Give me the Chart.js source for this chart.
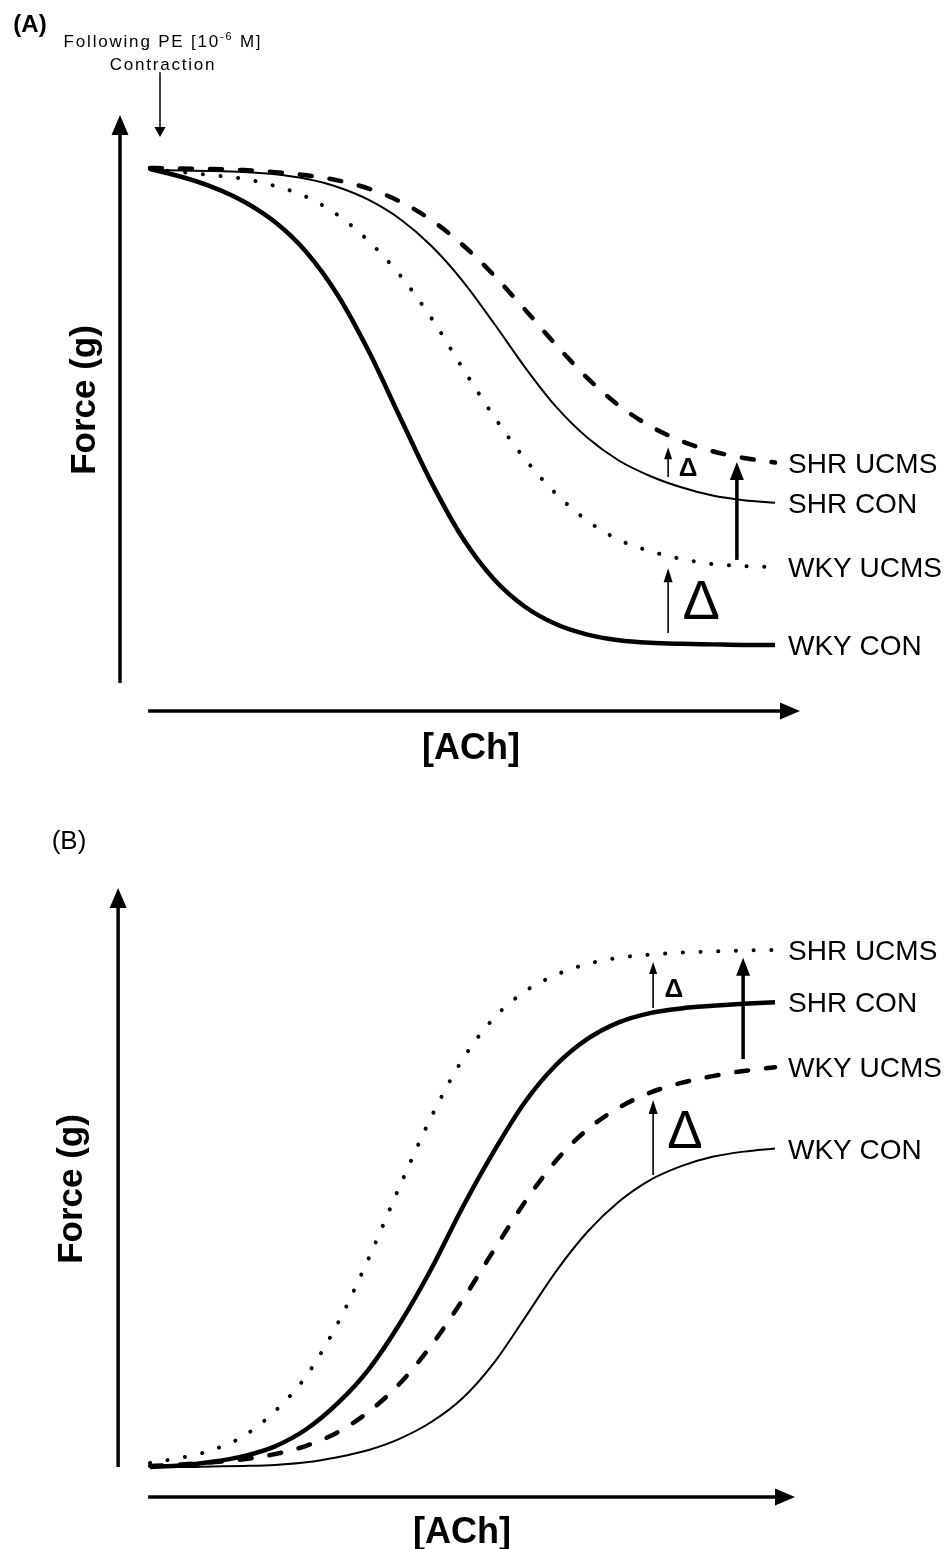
<!DOCTYPE html>
<html><head><meta charset="utf-8">
<script src="https://cdn.jsdelivr.net/npm/chart.js@4.4.1/dist/chart.umd.min.js"></script>
<style>
html,body{margin:0;padding:0;background:#fff;}
#wrap{position:relative;width:951px;height:1549px;overflow:hidden;}
canvas{position:absolute;left:0;}
#cA{top:0}
#cB{top:775px}
</style></head><body>
<div id="wrap"><canvas id="cA" width="951" height="775"></canvas><canvas id="cB" width="951" height="774"></canvas></div>
<script>
// ---------- DATA ----------
const achLevels = [0,5,10,15,20,25,30,35,40,45,50,55,60,65,70,75,80,85,90,95,100];
const seriesNames = ['SHR UCMS','SHR CON','WKY UCMS','WKY CON'];

// Panel A (relaxation following PE contraction)
const A_shrUcms = [100,99.9,99.8,99.6,99.2,98.6,97.6,96.0,93.5,89.9,85.1,79.2,72.5,65.6,59.2,53.9,49.9,47.0,45.0,43.7,42.8];
const A_shrCon  = [99.6,99.5,99.4,99.2,98.8,97.9,96.3,93.8,90.1,84.9,78.1,69.9,61.3,53.6,47.6,43.2,40.2,38.0,36.4,35.5,35.0];
const A_wkyUcms = [99.8,99.2,98.6,97.9,96.5,94.4,90.9,85.8,79.2,70.9,61.2,51.8,43.5,36.7,31.5,27.8,25.6,24.1,23.1,22.7,22.5];
const A_wkyCon  = [99.8,98.3,96.3,93.5,89.5,83.7,75.4,64.4,51.6,39.0,28.2,20.2,14.8,11.4,9.4,8.3,7.8,7.6,7.5,7.4,7.4];

// Panel B
const B_shrUcms = [0.8,1.8,3.3,6.0,10.8,17.6,27.7,40.4,54.4,67.7,78.8,86.8,92.0,95.2,97.3,98.5,99.1,99.5,99.7,99.9,100];
const B_shrCon  = [0,0.3,1.0,2.1,4.0,7.3,12.3,18.9,27.8,38.3,50.2,61.0,70.6,77.8,82.8,86.0,87.8,88.7,89.2,89.6,89.9];
const B_wkyUcms = [0.2,0.5,0.9,1.5,2.5,4.1,6.7,10.7,16.2,23.5,32.3,41.9,51.3,59.3,65.3,69.5,72.4,74.3,75.6,76.6,77.3];
const B_wkyCon  = [0,0,0.1,0.2,0.4,0.9,1.9,3.3,5.5,8.7,13.3,20.1,28.9,37.9,45.5,51.3,55.5,58.2,60.0,61.0,61.6];

// Delta arrows: [ACh position, from force, to force]
const A_arrowX    = [82.9, 82.9, 93.9];
const A_arrowFrom = [40.0, 9.7, 23.9];
const A_arrowTo   = [45.8, 22.3, 42.9];
const B_arrowX    = [80.5, 80.5, 94.9];
const B_arrowFrom = [88.8, 56.5, 78.9];
const B_arrowTo   = [97.7, 71.0, 98.5];
// Delta symbols: [ACh, force at glyph bottom]
const A_deltaX = [86.1, 88.2];
const A_deltaY = [40.2, 12.4];
const B_deltaX = [83.8, 85.6];
const B_deltaY = [90.9, 61.7];

// ---------- STYLES / LAYOUT ----------
const STYLES = {
  thick:{borderWidth:4.5, borderDash:[], borderCapStyle:'butt'},
  thin:{borderWidth:2, borderDash:[], borderCapStyle:'butt'},
  dash:{borderWidth:4.5, borderDash:[12,18], borderCapStyle:'round'},
  dot:{borderWidth:4, borderDash:[0.1,17.6], borderCapStyle:'round'}
};
const FONT = '"Liberation Sans", Arial, sans-serif';

function arrow(ctx,x1,y1,x2,y2,lw,hl,hw){
  const a=Math.atan2(y2-y1,x2-x1), c=Math.cos(a), s=Math.sin(a);
  const bx=x2-hl*c, by=y2-hl*s;
  ctx.save();
  ctx.strokeStyle='#000'; ctx.fillStyle='#000'; ctx.lineWidth=lw; ctx.lineCap='butt';
  ctx.beginPath(); ctx.moveTo(x1,y1); ctx.lineTo(bx+2*c,by+2*s); ctx.stroke();
  ctx.beginPath(); ctx.moveTo(x2,y2);
  ctx.lineTo(bx-hw/2*s, by+hw/2*c); ctx.lineTo(bx+hw/2*s, by-hw/2*c);
  ctx.closePath(); ctx.fill();
  ctx.restore();
}

function decoPlugin(L){
  return {id:'deco', afterDraw(chart){
    const ctx=chart.ctx, xs=chart.scales.x, ys=chart.scales.y;
    const X=v=>xs.getPixelForValue(v), Y=v=>ys.getPixelForValue(v);
    ctx.save();
    // axes
    arrow(ctx, X(L.yAxis[0]), Y(L.yAxis[1]), X(L.yAxis[0]), Y(L.yAxis[2]), 3.5, 20, 17);
    arrow(ctx, X(L.xAxis[1]), Y(L.xAxis[0]), X(L.xAxis[2]), Y(L.xAxis[0]), 3.5, 20, 17);
    // delta arrows
    const st=[[1.6,12,8],[1.6,14,9],[3.5,18,14]];
    L.arrX.forEach((x,i)=>arrow(ctx, X(x), Y(L.arrFrom[i]), X(x), Y(L.arrTo[i]), st[i][0], st[i][1], st[i][2]));
    // deltas
    ctx.fillStyle='#000'; ctx.textAlign='center'; ctx.textBaseline='alphabetic';
    ctx.font='bold 26px '+FONT; ctx.fillText('Δ', X(L.dX[0]), Y(L.dY[0]));
    ctx.font=L.bigDeltaSize+'px '+FONT; ctx.fillText('Δ', X(L.dX[1]), Y(L.dY[1]));
    // series labels at curve ends
    ctx.font='28px '+FONT; ctx.textAlign='left';
    chart.data.datasets.forEach(ds=>{
      const last=ds.data[ds.data.length-1];
      ctx.fillText(ds.label, X(last.x)+13, Y(last.y)+10);
    });
    // titles
    ctx.textAlign='center';
    ctx.font=L.panelFont+' '+FONT; ctx.fillText(L.panel, L.panelPos[0], L.panelPos[1]);
    ctx.font='bold 36px '+FONT; ctx.fillText('[ACh]', L.xTitlePos[0], L.xTitlePos[1]);
    ctx.save(); ctx.translate(L.yTitlePos[0], L.yTitlePos[1]); ctx.rotate(-Math.PI/2);
    ctx.font='bold 35px '+FONT; ctx.fillText('Force (g)', 0, 0); ctx.restore();
    if (L.note) {
      ctx.letterSpacing='1.8px';
      const a='Following PE [10', sup='-6', b=' M]';
      ctx.font='17px '+FONT; const wa=ctx.measureText(a).width, wb=ctx.measureText(b).width;
      ctx.font='11px '+FONT; const ws=ctx.measureText(sup).width;
      let x0=L.note.cx-(wa+ws+wb)/2; ctx.textAlign='left';
      ctx.font='17px '+FONT; ctx.fillText(a, x0, L.note.y1);
      ctx.font='11px '+FONT; ctx.fillText(sup, x0+wa, L.note.y1-7);
      ctx.font='17px '+FONT; ctx.fillText(b, x0+wa+ws, L.note.y1);
      ctx.textAlign='center'; ctx.fillText('Contraction', L.note.cx, L.note.y2);
      ctx.letterSpacing='0px';
      arrow(ctx, X(L.note.arrowX), Y(L.note.arrowFrom), X(L.note.arrowX), Y(L.note.arrowTo), 1.5, 10, 11);
    }
    ctx.restore();
  }};
}

function makeChart(id, series, styles, L){
  new Chart(document.getElementById(id), {
    type:'line',
    data:{datasets: series.map((s,i)=>Object.assign({
      label:seriesNames[i],
      data: achLevels.map((x,j)=>({x:x, y:s[j]})),
      borderColor:'#000', pointRadius:0, cubicInterpolationMode:'monotone', fill:false, clip:false
    }, STYLES[styles[i]]))},
    options:{responsive:false, animation:false, events:[],
      layout:{padding:L.padding},
      plugins:{legend:{display:false}, tooltip:{enabled:false}},
      scales:{x:{type:'linear',min:0,max:100,display:false}, y:{type:'linear',min:0,max:100,display:false}}},
    plugins:[decoPlugin(L)]
  });
}

makeChart('cA', [A_shrUcms,A_shrCon,A_wkyUcms,A_wkyCon], ['dash','thin','dot','thick'], {
  padding:{left:150,right:176,top:168,bottom:92},
  yAxis:[-4.8,0,110.3], xAxis:[-5.44,-0.3,104],
  arrX:A_arrowX, arrFrom:A_arrowFrom, arrTo:A_arrowTo, dX:A_deltaX, dY:A_deltaY, bigDeltaSize:56,
  panel:'(A)', panelFont:'bold 24px', panelPos:[30,32],
  xTitlePos:[471,759], yTitlePos:[95,400],
  note:{cx:163, y1:47, y2:70, arrowX:1.6, arrowFrom:118.6, arrowTo:106.0}
});
makeChart('cB', [B_shrUcms,B_shrCon,B_wkyUcms,B_wkyCon], ['dot','thick','dash','thin'], {
  padding:{left:150,right:176,top:175,bottom:82},
  yAxis:[-5.1,0,112], xAxis:[-5.8,-0.3,103.2],
  arrX:B_arrowX, arrFrom:B_arrowFrom, arrTo:B_arrowTo, dX:B_deltaX, dY:B_deltaY, bigDeltaSize:53,
  panel:'(B)', panelFont:'26px', panelPos:[69,74],
  xTitlePos:[462,768], yTitlePos:[82,414]
});
</script>
</body></html>
